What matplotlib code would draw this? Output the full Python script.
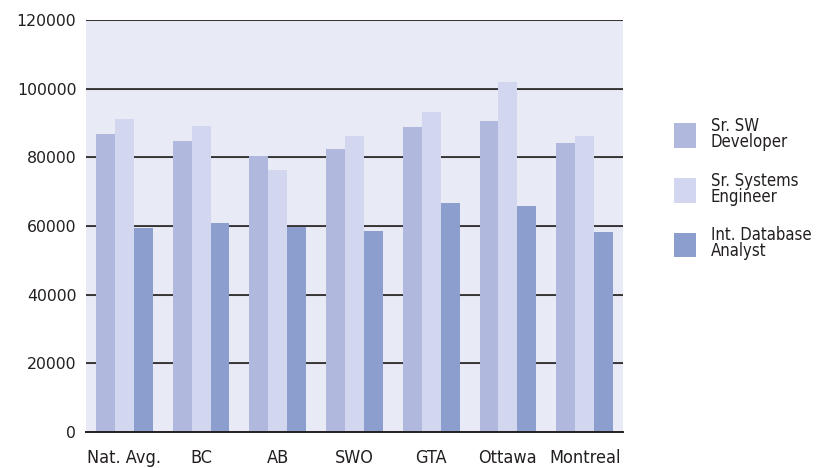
import matplotlib
matplotlib.use("Agg")
import matplotlib.pyplot as plt
import numpy as np
from matplotlib.patches import Patch

categories = ["Nat. Avg.", "BC", "AB", "SWO", "GTA", "Ottawa", "Montreal"]
sr_sw_dev = [86800, 84800, 80400, 82400, 88800, 90600, 84200]
sr_sys_eng = [91200, 89100, 76300, 86200, 93200, 101900, 86200]
int_db_analyst = [59400, 60900, 59700, 58500, 66700, 65800, 58300]
series_names = ["Sr. SW\nDeveloper", "Sr. Systems\nEngineer", "Int. Database\nAnalyst"]
colors = ["#b0b8de", "#d2d6ee", "#8b9ecd"]
yticks = [0, 20000, 40000, 60000, 80000, 100000, 120000]

plt.rcParams['font.family'] = ['DejaVu Sans']
fig = plt.figure(figsize=(8.28, 4.68), dpi=100)
ax = fig.add_axes([86/828, 36/468, 537/828, 412/468])
ax.set_facecolor("#e8eaf6")

x = np.arange(len(categories))
w = 0.247
for i, (vals, c) in enumerate(zip([sr_sw_dev, sr_sys_eng, int_db_analyst], colors)):
    ax.bar(x + (i - 1) * w, vals, width=w, color=c, zorder=3)

ax.set_xlim(-0.5, len(categories) - 0.5)
ax.set_ylim(0, 120000)
ax.set_yticks(yticks)
ax.set_yticklabels([str(v) for v in yticks], fontsize=11.3, color="#231f20")
ax.set_xticks(x)
ax.set_xticklabels(categories, fontsize=13, stretch='condensed', color="#231f20")
ax.tick_params(axis='y', length=0, pad=7)
ax.tick_params(axis='x', length=0, pad=12)
for v in yticks[1:]:
    ax.axhline(v, color="#231f20", lw=1.2, zorder=2)
    ax.axhline(v, color="#a0a0a8", lw=0.8, zorder=1.9)
for s in ["top", "left", "right"]:
    ax.spines[s].set_visible(False)
ax.spines["bottom"].set_color("#231f20")
ax.spines["bottom"].set_linewidth(1.4)
ax.spines["bottom"].set_zorder(4)

handles = [Patch(facecolor=c, edgecolor="none") for c in colors]
leg = fig.legend(handles, series_names, loc="upper left", bbox_to_anchor=(659/828, 1 - 102/468),
                 frameon=False, handlelength=1.32, handleheight=1.88,
                 labelspacing=1.25, handletextpad=0.9, prop={'size': 12, 'stretch': 'condensed'})
for t in leg.get_texts():
    t.set_linespacing(0.85)
    t.set_color("#231f20")

fig.savefig("out.png", dpi=100)
